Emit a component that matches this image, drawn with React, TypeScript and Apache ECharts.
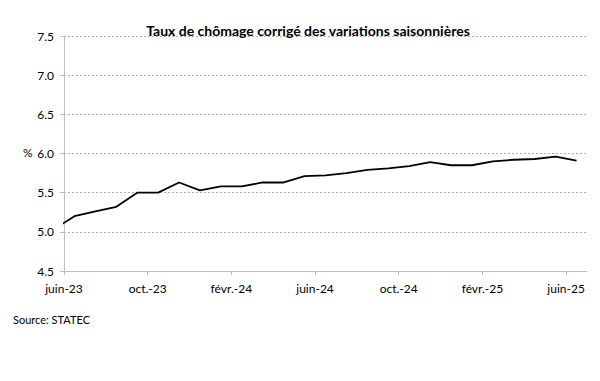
import React, { useEffect, useRef } from "react";
import * as echarts from "echarts";

const TITLE = "Taux de chômage corrigé des variations saisonnières";
const SOURCE = "Source: STATEC";
const UNIT = "%";

// Monthly points (first one lies before the axis start and is clipped)
const months = [
  "mai-23", "juin-23", "juil.-23", "août-23", "sept.-23", "oct.-23", "nov.-23", "déc.-23",
  "janv.-24", "févr.-24", "mars-24", "avr.-24", "mai-24", "juin-24", "juil.-24", "août-24",
  "sept.-24", "oct.-24", "nov.-24", "déc.-24", "janv.-25", "févr.-25", "mars-25", "avr.-25",
  "mai-25", "juin-25",
];
const rate = [
  5.03, 5.2, 5.26, 5.32, 5.5, 5.5, 5.63, 5.53, 5.58, 5.58, 5.63, 5.63, 5.71,
  5.72, 5.75, 5.79, 5.81, 5.84, 5.89, 5.85, 5.85, 5.9, 5.92, 5.93, 5.96, 5.91,
];
const xTickLabels = ["juin-23", "oct.-23", "févr.-24", "juin-24", "oct.-24", "févr.-25", "juin-25"];
const yMin = 4.5;
const yMax = 7.5;
const yStep = 0.5;

export default function App() {
  const ref = useRef<HTMLDivElement>(null);
  useEffect(() => {
    document.body.style.margin = "0";
    if (!ref.current) return;
    const chart = echarts.init(ref.current, null, { renderer: "svg" });
    const firstTick = months.indexOf(xTickLabels[0]);
    // month k occupies [k-firstTick, k-firstTick+1]; point at its centre
    const data = rate.map((v, i) => [i - firstTick + 0.5, v]);
    const tickValues = xTickLabels.map((l) => months.indexOf(l) - firstTick);
    const xMax = months.length - firstTick;
    const font = "Lato, 'Open Sans', sans-serif";
    chart.setOption({
      animation: false,
      grid: { left: 64, right: 13, top: 36, bottom: 110 },
      title: {
        text: TITLE,
        left: 303,
        top: 18,
        textAlign: "center",
        textStyle: { fontFamily: font, fontSize: 14, fontWeight: "bold", color: "#000" },
      },
      graphic: [
        {
          type: "text",
          left: 13,
          top: 314,
          style: { text: SOURCE, fontFamily: font, fontSize: 11, fill: "#000" },
        },
        {
          type: "text",
          left: 23,
          top: 146,
          style: { text: UNIT, fontFamily: font, fontSize: 12, fill: "#000" },
        },
      ],
      xAxis: {
        type: "value",
        min: 0,
        max: xMax,
        splitLine: { show: false },
        axisLine: { show: true, lineStyle: { color: "#bfbfbf", width: 1 } },
        axisTick: {
          show: true,
          length: 4,
          customValues: tickValues,
          lineStyle: { color: "#bfbfbf" },
        },
        axisLabel: {
          customValues: tickValues,
          formatter: (v: number) => {
            const i = tickValues.indexOf(Math.round(v));
            return i >= 0 ? xTickLabels[i] : "";
          },
          fontFamily: font,
          fontSize: 12,
          color: "#000",
          margin: 11,
        },
      },
      yAxis: {
        type: "value",
        min: yMin,
        max: yMax,
        interval: yStep,
        axisLine: { show: true, lineStyle: { color: "#bfbfbf", width: 1 } },
        axisTick: { show: true, length: 4, lineStyle: { color: "#bfbfbf" } },
        axisLabel: {
          formatter: (v: number) => v.toFixed(1),
          fontFamily: font,
          fontSize: 12,
          color: "#000",
          margin: 10,
        },
        splitLine: { show: true, lineStyle: { color: "#b0b0b0", type: [2, 2], width: 1 } },
      },
      series: [
        {
          type: "line",
          data,
          showSymbol: false,
          symbol: "none",
          clip: true,
          lineStyle: { color: "#000", width: 1.8 },
        },
      ],
    });
    return () => chart.dispose();
  }, []);
  return <div ref={ref} style={{ width: 600, height: 381 }} />;
}
